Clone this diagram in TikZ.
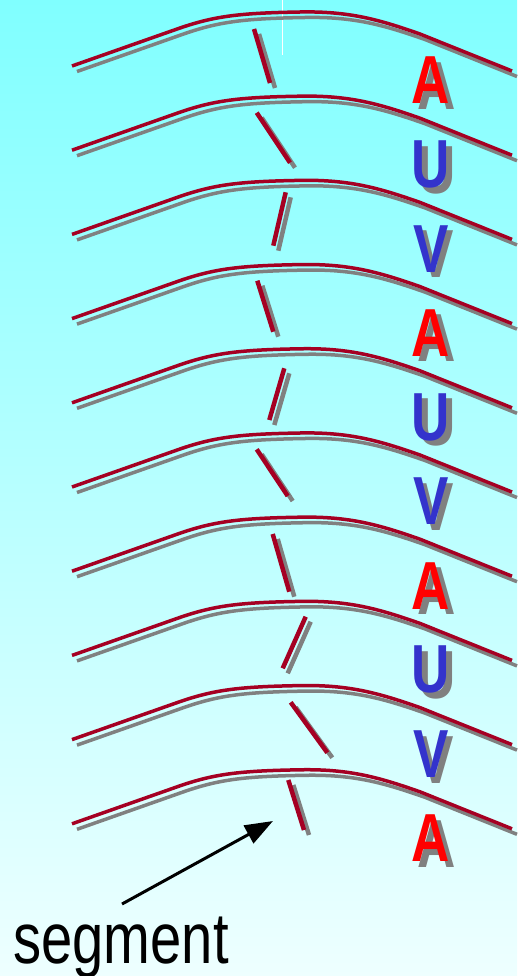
\documentclass[tikz,border=0pt]{standalone}
\usepackage{fontspec}
\newfontfamily\narrowsans[FakeStretch=0.78]{Liberation Sans}
\usepackage{tikz}
\usetikzlibrary{arrows.meta}
\usepackage{xcolor}
\definecolor{strandred}{RGB}{165,0,35}
\definecolor{shadowgray}{RGB}{128,128,128}
\definecolor{baseblue}{RGB}{51,51,204}
\definecolor{skytop}{RGB}{128,255,255}
\definecolor{skybottom}{RGB}{238,255,255}

\begin{document}
\begin{tikzpicture}[x=1pt, y=-1pt,
    strand/.style={line width=3.5pt, strandred},
    strandshade/.style={line width=3.5pt, shadowgray},
    cut/.style={line width=4.5pt, strandred},
    cutshade/.style={line width=4.5pt, shadowgray},
    base/.style={inner sep=0pt, font=\narrowsans\bfseries\fontsize{68}{68}\selectfont},
    baseshade/.style={base, text=shadowgray},
    pointer/.style={-{Triangle[length=28pt, width=20pt]}, line width=3pt, black}]
                \useasboundingbox (0,0) rectangle (517,976);
                \fill[top color=skytop, bottom color=skybottom] (0,0) rectangle (517,976);
                \draw[white, line width=0.8pt] (282,0) -- (282,55);
                \foreach \i in {0,...,9}{
                    \draw[strandshade, shift={(5,{84.2*\i+5.5})}] (72,66) -- (180,28) .. controls (215,16) and (240,13) .. (300,12) .. controls (350,11) and (380,20) .. (420,34) -- (512,71);
                    \draw[strand, shift={(0,{84.2*\i})}] (72,66) -- (180,28) .. controls (215,16) and (240,13) .. (300,12) .. controls (350,11) and (380,20) .. (420,34) -- (512,71);
                }
                \foreach \ax/\ay/\bx/\by in {254/29/270/83, 256.7/112.7/290/162.7, 285.7/192.3/273.3/245.7, 257.3/280.7/273.3/331.7, 284.3/368.3/269.3/420, 256.7/449.3/287.7/496, 272.7/534/289.3/591.7, 305.7/616.7/282.7/668.3, 290.7/702.3/327.3/752.7, 288.3/780/304/830}{
                    \draw[cutshade] (\ax+5,\ay+5) -- (\bx+5,\by+5);
                    \draw[cut] (\ax,\ay) -- (\bx,\by);
                }
                \foreach \ltr/\col [count=\k from 0] in {A/red, U/baseblue, V/baseblue, A/red, U/baseblue, V/baseblue, A/red, U/baseblue, V/baseblue, A/red}{
                    \node[baseshade] (shade\k) at (436.5,{80.5+84.2*\k+5.5}) {\ltr};
                    \node[base, text=\col] (base\k) at (431,{80.5+84.2*\k}) {\ltr};
                }
                \node[inner sep=0pt, anchor=base, font=\narrowsans\fontsize{72}{72}\selectfont] (seglabel) at (121,963) {segment};
                \coordinate (tail) at (122,904);
                \coordinate (segtip) at (273,821);
                \draw[pointer] (tail) -- (segtip);
            \end{tikzpicture}
\end{document}
